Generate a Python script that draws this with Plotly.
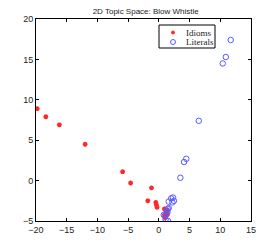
import plotly.graph_objects as go

idiom_x = [-19.8, -18.4, -16.2, -12.0, -5.9, -4.6, -1.2, -1.8, -0.5, -0.4, -0.3, 0.9, 1.37, 1.2, 1.2, 1.0, 1.4, 1.0, 1.2]
idiom_y = [8.9, 7.9, 6.9, 4.5, 1.1, -0.3, -0.9, -2.5, -2.7, -3.0, -3.3, -3.5, -3.6, -3.7, -3.9, -4.3, -4.2, -4.6, -4.2]

literal_x = [11.7, 10.9, 10.4, 6.5, 4.46, 4.1, 3.5, 2.3, 2.0, 2.45, 1.6, 2.2, 1.6, 1.45, 1.3, 1.4, 1.0, 0.8, 1.1, 1.5]
literal_y = [17.4, 15.3, 14.5, 7.4, 2.7, 2.3, 0.35, -2.1, -2.2, -2.5, -2.6, -2.7, -3.4, -3.5, -3.8, -3.9, -4.3, -4.25, -4.8, -5.0]

x_ticks = [-20, -15, -10, -5, 0, 5, 10, 15]
y_ticks = [-5, 0, 5, 10, 15, 20]

series_names = ["Idioms", "Literals"]
red = "rgb(255,40,40)"
blue = "rgb(90,90,255)"

fig = go.Figure()
fig.add_trace(go.Scatter(
    x=idiom_x, y=idiom_y, mode="markers", name=series_names[0],
    marker=dict(symbol="asterisk-open", size=4, color=red,
                line=dict(color=red, width=1.5)),
))
fig.add_trace(go.Scatter(
    x=literal_x, y=literal_y, mode="markers", name=series_names[1],
    marker=dict(symbol="circle-open", size=5.5, color=blue,
                line=dict(color=blue, width=1)),
))

axis_common = dict(
    showgrid=False, zeroline=False, showline=True, linecolor="black", linewidth=1,
    mirror="ticks", ticks="inside", ticklen=3, tickcolor="black", automargin=False,
    tickfont=dict(family="Liberation Sans, Arial, sans-serif", size=9, color="#222"),
)

# plot area in figure pixels: x 28..243 (215 px), y 11..213 (202 px)
PW, PH, L, T = 215.0, 202.0, 28.0, 11.0
def px(x):
    return (x - L) / PW
def py(y):
    return 1 - (y - T) / PH

# compact legend box (MATLAB style)
shapes = [
    dict(type="rect", xref="paper", yref="paper", x0=px(151), x1=px(207), y0=py(40), y1=py(17),
         line=dict(color="black", width=1), fillcolor="white", layer="above"),
    dict(type="circle", xref="paper", yref="paper", x0=px(163.5), x1=px(166.5), y0=py(26), y1=py(23),
         line=dict(color=red, width=1), fillcolor=red, layer="above"),
    dict(type="circle", xref="paper", yref="paper", x0=px(162.5), x1=px(167.5), y0=py(36.5), y1=py(31.5),
         line=dict(color=blue, width=1), fillcolor="rgba(0,0,0,0)", layer="above"),
]
annotations = [
    dict(text=series_names[0], xref="paper", yref="paper", x=px(176), y=py(24.5), xanchor="left", yanchor="middle",
         showarrow=False, font=dict(family="Liberation Serif, Times New Roman, serif", size=9, color="#222")),
    dict(text=series_names[1], xref="paper", yref="paper", x=px(176), y=py(34), xanchor="left", yanchor="middle",
         showarrow=False, font=dict(family="Liberation Serif, Times New Roman, serif", size=9, color="#222")),
]

fig.update_layout(
    width=269, height=241,
    margin=dict(l=28, r=26, t=11, b=28),
    paper_bgcolor="white", plot_bgcolor="white",
    title=dict(text="2D Topic Space: Blow Whistle", x=0.512, xanchor="center",
               y=1.0, yanchor="top", pad=dict(t=0),
               font=dict(family="Liberation Sans, Arial, sans-serif", size=8, color="#222")),
    xaxis=dict(range=[-20, 15], tickvals=x_ticks, ticktext=[str(v).replace("-", "\u2212") for v in x_ticks], **axis_common),
    yaxis=dict(range=[-5, 20], tickvals=y_ticks, ticktext=[str(v).replace("-", "\u2212") for v in y_ticks], **axis_common),
    showlegend=False,
    shapes=shapes,
    annotations=annotations,
)

fig.write_html("out.html")
